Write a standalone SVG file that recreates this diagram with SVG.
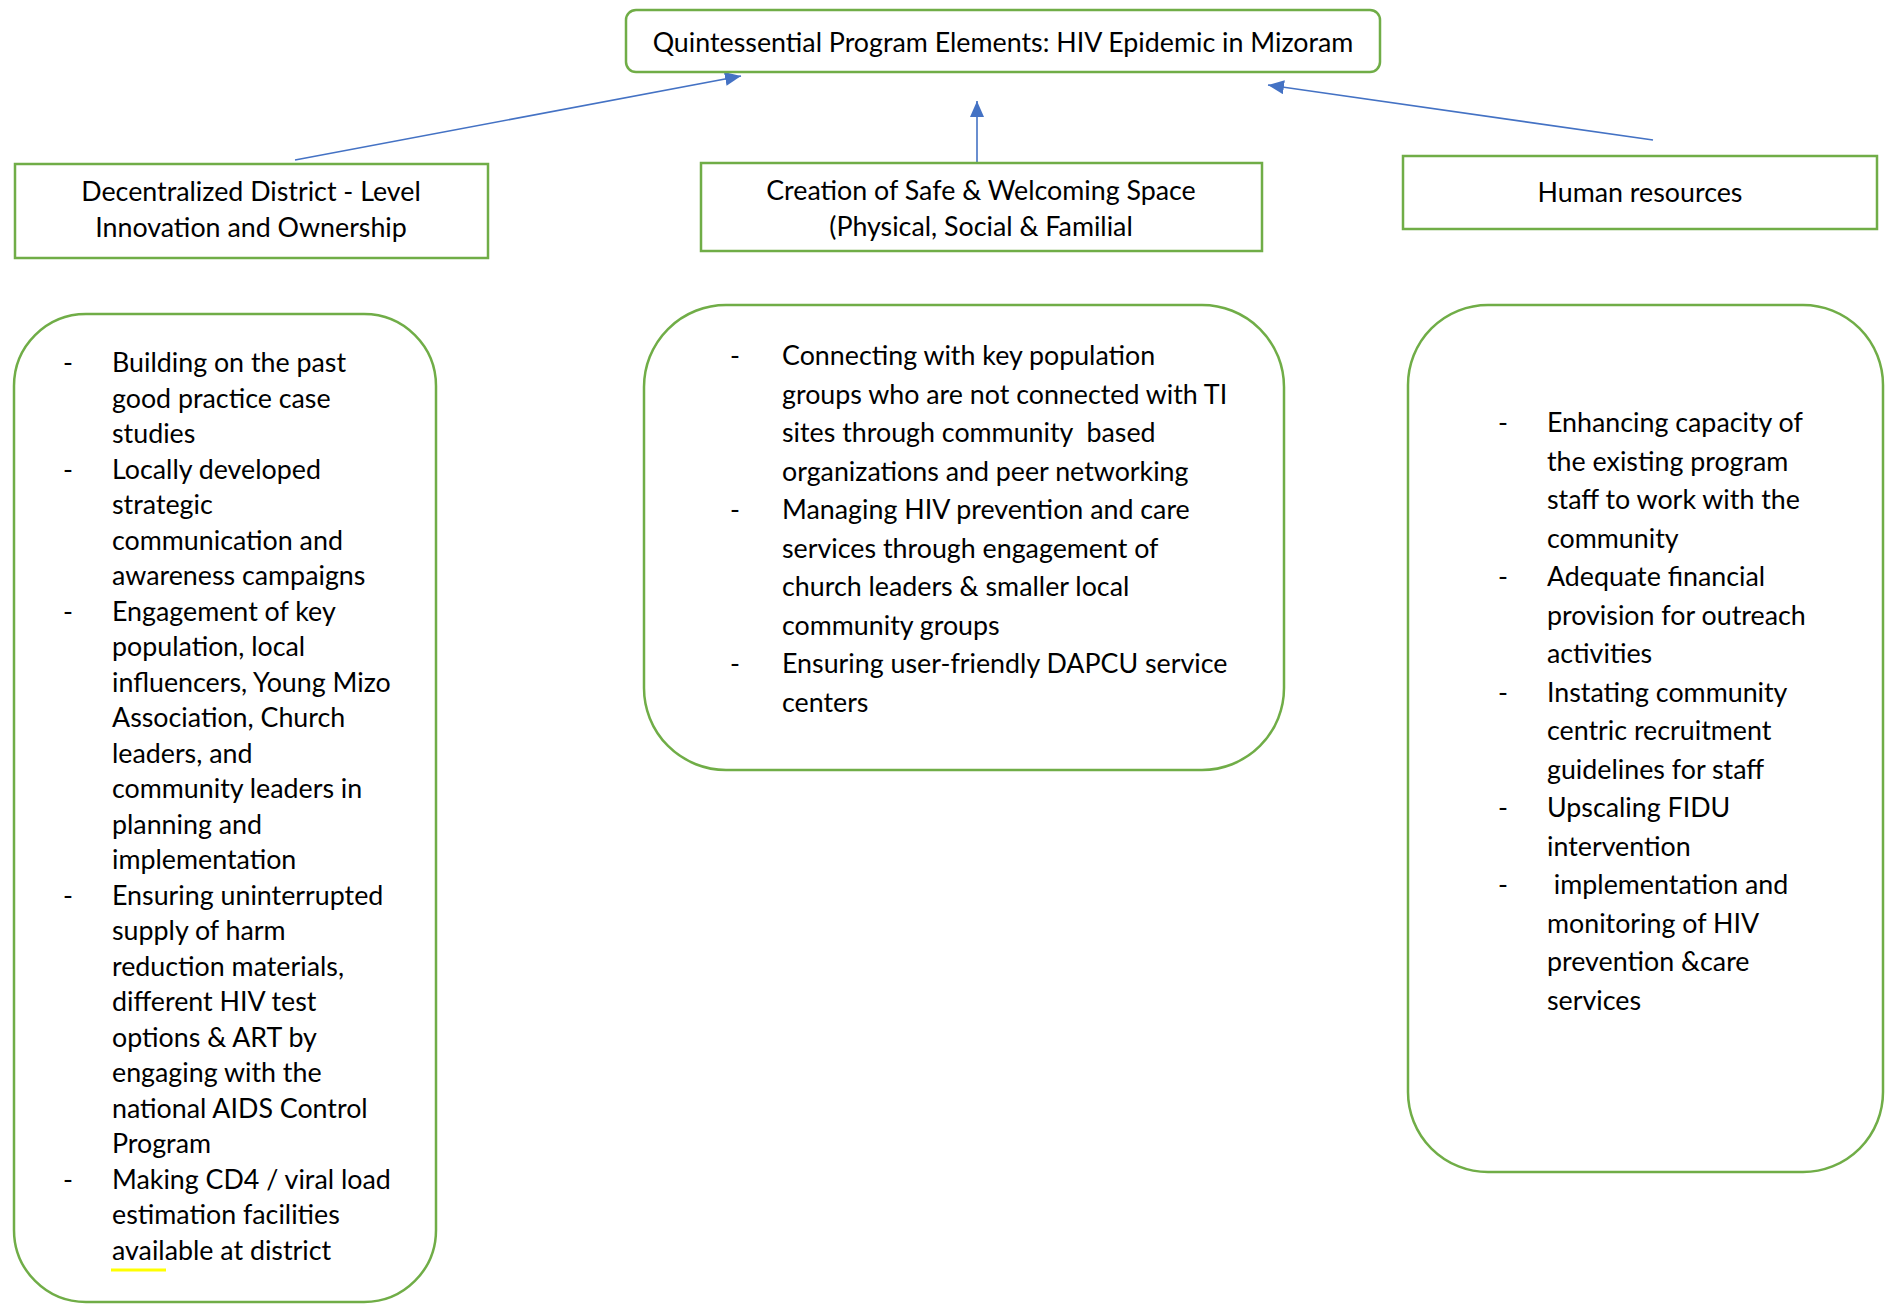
<svg xmlns="http://www.w3.org/2000/svg" width="1902" height="1315" viewBox="0 0 1902 1315">
<defs>
<marker id="ah" markerUnits="userSpaceOnUse" markerWidth="18" markerHeight="14" refX="16" refY="7" orient="auto">
<path d="M0,0 L16,7 L0,14 Z" fill="#4472C4"/>
</marker>
<style>
.box{fill:#ffffff;stroke:#70AD47;stroke-width:2.5}
.t{font-family:Lato,"Open Sans","Liberation Sans",sans-serif;font-size:26.8px;fill:#000}
.c{text-anchor:middle}
.d{text-anchor:middle}
.pre{white-space:pre}
.conn{stroke:#4472C4;stroke-width:1.6;fill:none;marker-end:url(#ah)}
</style>
</defs>
<rect width="1902" height="1315" fill="#ffffff"/>

<g id="connectors">
<line class="conn" x1="295" y1="160" x2="741" y2="76"/>
<line class="conn" x1="977" y1="162" x2="977" y2="101"/>
<line class="conn" x1="1653" y1="140" x2="1268" y2="85"/>
</g>

<g id="top">
<rect class="box" x="626" y="10" width="754" height="62" rx="10"/>
<text class="t c" x="1003" y="52">Quintessential Program Elements: HIV Epidemic in Mizoram</text>
</g>

<g id="h-left">
<rect class="box" x="15" y="164" width="473" height="94"/>
<text class="t c" x="251" y="201">Decentralized District - Level</text>
<text class="t c" x="251" y="237">Innovation and Ownership</text>
</g>

<g id="h-mid">
<rect class="box" x="701" y="163" width="561" height="88"/>
<text class="t c" x="981" y="200">Creation of Safe &amp; Welcoming Space</text>
<text class="t c" x="981" y="236">(Physical, Social &amp; Familial</text>
</g>

<g id="h-right">
<rect class="box" x="1403" y="156" width="474" height="73"/>
<text class="t c" x="1640" y="202">Human resources</text>
</g>

<g id="list-left">
<rect class="box" x="14" y="314" width="422" height="988" rx="72"/>
<g class="t">
<text class="d" x="68" y="372">-</text>
<text class="d" x="68" y="478.5">-</text>
<text class="d" x="68" y="620.5">-</text>
<text class="d" x="68" y="904.5">-</text>
<text class="d" x="68" y="1188.5">-</text>
<text x="112" y="372">Building on the past</text>
<text x="112" y="407.5">good practice case</text>
<text x="112" y="443">studies</text>
<text x="112" y="478.5">Locally developed</text>
<text x="112" y="514">strategic</text>
<text x="112" y="549.5">communication and</text>
<text x="112" y="585">awareness campaigns</text>
<text x="112" y="620.5">Engagement of key</text>
<text x="112" y="656">population, local</text>
<text x="112" y="691.5">influencers, Young Mizo</text>
<text x="112" y="727">Association, Church</text>
<text x="112" y="762.5">leaders, and</text>
<text x="112" y="798">community leaders in</text>
<text x="112" y="833.5">planning and</text>
<text x="112" y="869">implementation</text>
<text x="112" y="904.5">Ensuring uninterrupted</text>
<text x="112" y="940">supply of harm</text>
<text x="112" y="975.5">reduction materials,</text>
<text x="112" y="1011">different HIV test</text>
<text x="112" y="1046.5">options &amp; ART by</text>
<text x="112" y="1082">engaging with the</text>
<text x="112" y="1117.5">national AIDS Control</text>
<text x="112" y="1153">Program</text>
<text x="112" y="1188.5">Making CD4 / viral load</text>
<text x="112" y="1224">estimation facilities</text>
<text x="112" y="1259.5">available at district</text>
</g>
<line x1="111" y1="1270" x2="166" y2="1270" stroke="#FFFF00" stroke-width="3"/>
</g>

<g id="list-mid">
<rect class="box" x="644" y="305" width="640" height="465" rx="82"/>
<g class="t">
<text class="d" x="735" y="365">-</text>
<text class="d" x="735" y="519">-</text>
<text class="d" x="735" y="673">-</text>
<text x="782" y="365">Connecting with key population</text>
<text x="782" y="403.5">groups who are not connected with TI</text>
<text class="pre" x="782" y="442">sites through community  based</text>
<text x="782" y="480.5">organizations and peer networking</text>
<text x="782" y="519">Managing HIV prevention and care</text>
<text x="782" y="557.5">services through engagement of</text>
<text x="782" y="596">church leaders &amp; smaller local</text>
<text x="782" y="634.5">community groups</text>
<text x="782" y="673">Ensuring user-friendly DAPCU service</text>
<text x="782" y="711.5">centers</text>
</g>
</g>

<g id="list-right">
<rect class="box" x="1408" y="305" width="475" height="867" rx="80"/>
<g class="t">
<text class="d" x="1503" y="432">-</text>
<text class="d" x="1503" y="586">-</text>
<text class="d" x="1503" y="701.5">-</text>
<text class="d" x="1503" y="817">-</text>
<text class="d" x="1503" y="894">-</text>
<text x="1547" y="432">Enhancing capacity of</text>
<text x="1547" y="470.5">the existing program</text>
<text x="1547" y="509">staff to work with the</text>
<text x="1547" y="547.5">community</text>
<text x="1547" y="586">Adequate financial</text>
<text x="1547" y="624.5">provision for outreach</text>
<text x="1547" y="663">activities</text>
<text x="1547" y="701.5">Instating community</text>
<text x="1547" y="740">centric recruitment</text>
<text x="1547" y="778.5">guidelines for staff</text>
<text x="1547" y="817">Upscaling FIDU</text>
<text x="1547" y="855.5">intervention</text>
<text class="pre" x="1547" y="894"> implementation and</text>
<text x="1547" y="932.5">monitoring of HIV</text>
<text x="1547" y="971">prevention &amp;care</text>
<text x="1547" y="1009.5">services</text>
</g>
</g>
</svg>
